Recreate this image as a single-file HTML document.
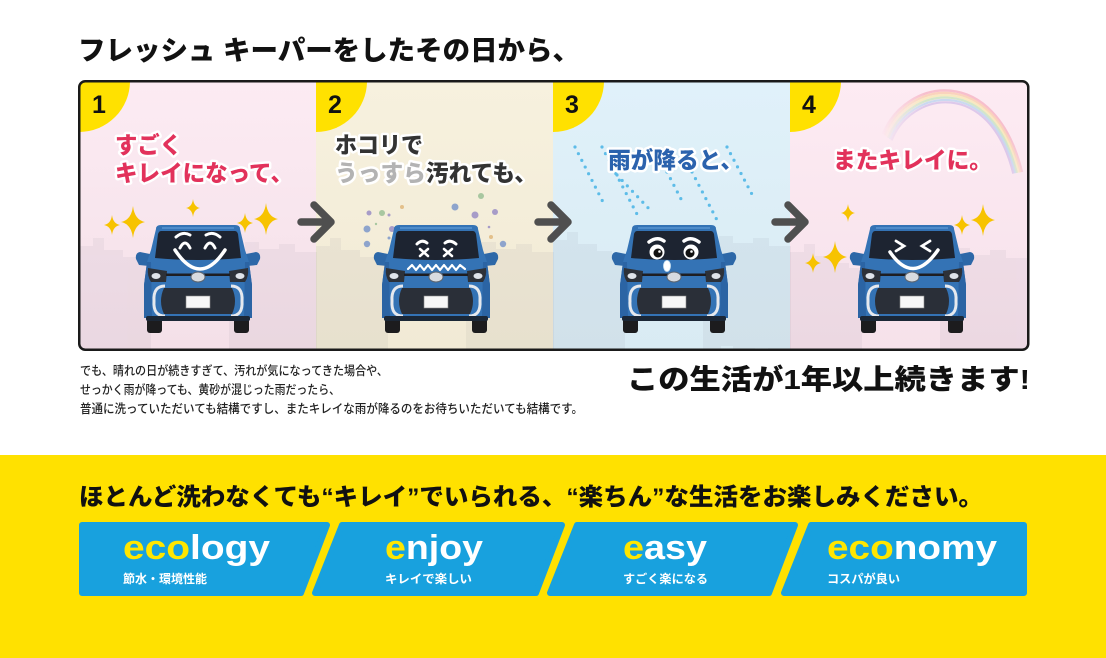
<!DOCTYPE html>
<html><head><meta charset="utf-8">
<style>
html,body{margin:0;padding:0;background:#fff;}
body{width:1106px;height:658px;overflow:hidden;}
svg{display:block;}
text{font-family:"Liberation Sans","Noto Sans CJK JP",sans-serif;}
</style></head>
<body>
<svg width="1106" height="658" viewBox="0 0 1106 658" xmlns="http://www.w3.org/2000/svg">
<defs>
  <clipPath id="frameClip"><rect x="80" y="82" width="947" height="267" rx="5"/></clipPath>
  <linearGradient id="p1g" x1="0" y1="0" x2="0" y2="1"><stop offset="0" stop-color="#fcebf3"/><stop offset="1" stop-color="#f4e0e8"/></linearGradient>
  <linearGradient id="p2g" x1="0" y1="0" x2="0" y2="1"><stop offset="0" stop-color="#f7f1de"/><stop offset="1" stop-color="#f1ead5"/></linearGradient>
  <linearGradient id="p3g" x1="0" y1="0" x2="0" y2="1"><stop offset="0" stop-color="#e0f1fa"/><stop offset="1" stop-color="#d9ebf3"/></linearGradient>
  <linearGradient id="p4g" x1="0" y1="0" x2="0" y2="1"><stop offset="0" stop-color="#fdebf3"/><stop offset="1" stop-color="#f6e1ea"/></linearGradient>
  <linearGradient id="rbFade" x1="880" y1="0" x2="1030" y2="0" gradientUnits="userSpaceOnUse">
    <stop offset="0" stop-color="#fff" stop-opacity="0"/><stop offset="0.3" stop-color="#fff" stop-opacity="1"/><stop offset="0.85" stop-color="#fff" stop-opacity="1"/><stop offset="1" stop-color="#fff" stop-opacity="0.4"/>
  </linearGradient>
  <mask id="rbMask"><rect x="860" y="70" width="180" height="130" fill="url(#rbFade)"/></mask>
  <path id="star" d="M0,-1 Q0.13,-0.13 1,0 Q0.13,0.13 0,1 Q-0.13,0.13 -1,0 Q-0.13,-0.13 0,-1Z" fill="#f7c300"/>
  <g id="city" fill="#5a5a72" opacity="0.06">
    <rect x="0" y="246" width="16" height="110"/>
    <rect x="14" y="238" width="11" height="120"/>
    <rect x="24" y="250" width="20" height="110"/>
    <rect x="43" y="257" width="16" height="100"/>
    <rect x="58" y="262" width="14" height="100"/>
    <rect x="150" y="256" width="18" height="100"/>
    <rect x="166" y="242" width="14" height="110"/>
    <rect x="180" y="249" width="22" height="110"/>
    <rect x="200" y="244" width="16" height="110"/>
    <rect x="215" y="252" width="23" height="110"/>
  </g>
  <g id="car">
    <rect x="-51" y="311" width="15" height="22" rx="3" fill="#1c1c1e"/>
    <rect x="36" y="311" width="15" height="22" rx="3" fill="#1c1c1e"/>
    <path d="M-48,254 L-58,252 Q-63,253 -62,259 L-59,265 L-49,266 Z" fill="#2d68a8"/>
    <path d="M48,254 L58,252 Q63,253 62,259 L59,265 L49,266 Z" fill="#2d68a8"/>
    <path d="M-42,229 Q-42,225 -37,225 L37,225 Q42,225 42,229 L47,250 L51,262 L54,285 L54,318 L-54,318 L-54,285 L-51,262 L-47,250 Z" fill="#3473b5"/>
    <path d="M-54,285 L-51,262 L-47,262 L-46,318 L-54,318Z" fill="#2b64a4"/>
    <path d="M54,285 L51,262 L47,262 L46,318 L54,318Z" fill="#2b64a4"/>
    <path d="M-36,228 L36,228" stroke="#4f8cca" stroke-width="2"/>
    <path d="M-37,231 L37,231 Q39,231 40,234 L43,258 Q0,262 -43,258 L-40,234 Q-39,231 -37,231Z" fill="#1d2431"/>
    <path d="M-50,268 L-31,271 L-32,282 L-47,282 Q-51,276 -50,268Z" fill="#2d3138"/>
    <path d="M50,268 L31,271 L32,282 L47,282 Q51,276 50,268Z" fill="#2d3138"/>
    <ellipse cx="-42" cy="276" rx="4.5" ry="3" fill="#dfe4ea"/>
    <ellipse cx="42" cy="276" rx="4.5" ry="3" fill="#dfe4ea"/>
    <rect x="-32" y="273.5" width="64" height="2.5" fill="#1e1e22"/>
    <ellipse cx="0" cy="277" rx="7" ry="5" fill="#d8dbe0" stroke="#5b6470" stroke-width="1"/>
    <path d="M-34,288 L34,288 Q40,301 34,314 L-34,314 Q-40,301 -34,288Z" fill="#2a2f38"/>
    <path d="M-33,286 Q-45,286 -44,301 Q-45,316 -33,316" stroke="#e6e9ee" stroke-width="3" fill="none"/>
    <path d="M33,286 Q45,286 44,301 Q45,316 33,316" stroke="#e6e9ee" stroke-width="3" fill="none"/>
    <rect x="-12" y="296" width="24" height="12" fill="#f7f7f7" stroke="#888" stroke-width="0.6"/>
    <rect x="-52" y="316" width="104" height="5" rx="2" fill="#1b2736"/>
  </g>
</defs>

<!-- Title -->
<text x="78" y="60" font-size="27" font-weight="900" fill="#111" textLength="502" lengthAdjust="spacingAndGlyphs">フレッシュ キーパーをしたその日から、</text>

<!-- Panels -->
<g clip-path="url(#frameClip)">
  <rect x="79" y="81" width="238" height="270" fill="url(#p1g)"/>
  <rect x="316" y="81" width="238" height="270" fill="url(#p2g)"/>
  <rect x="553" y="81" width="238" height="270" fill="url(#p3g)"/>
  <rect x="790" y="81" width="240" height="270" fill="url(#p4g)"/>
  <use href="#city" transform="translate(79,0)"/>
  <use href="#city" transform="translate(316,0)"/>
  <use href="#city" transform="translate(553,-6)"/>
  <use href="#city" transform="translate(790,6)"/>
  <!-- yellow corners (quarter circles) -->
  <path d="M79,81 L130,81 A51,51 0 0 1 79,132 Z" fill="#ffe100"/>
  <path d="M316,81 L367,81 A51,51 0 0 1 316,132 Z" fill="#ffe100"/>
  <path d="M553,81 L604,81 A51,51 0 0 1 553,132 Z" fill="#ffe100"/>
  <path d="M790,81 L841,81 A51,51 0 0 1 790,132 Z" fill="#ffe100"/>

  <!-- rainbow -->
  <g mask="url(#rbMask)" fill="none" stroke-width="2.4" opacity="0.6">
    <path d="M883,134 C905,78 995,62 1022,172" stroke="#f3a2b4"/>
    <path d="M883,134 C905,78 995,62 1022,172" stroke="#f8c49a" transform="translate(952,185) scale(0.975) translate(-952,-185)"/>
    <path d="M883,134 C905,78 995,62 1022,172" stroke="#f6e8a0" transform="translate(952,185) scale(0.95) translate(-952,-185)"/>
    <path d="M883,134 C905,78 995,62 1022,172" stroke="#b7e3b0" transform="translate(952,185) scale(0.925) translate(-952,-185)"/>
    <path d="M883,134 C905,78 995,62 1022,172" stroke="#a9cdef" transform="translate(952,185) scale(0.9) translate(-952,-185)"/>
    <path d="M883,134 C905,78 995,62 1022,172" stroke="#c9b3e6" transform="translate(952,185) scale(0.875) translate(-952,-185)"/>
  </g>

  <!-- rain -->
  <g stroke="#5dbce8" stroke-width="3.2" stroke-linecap="round" stroke-dasharray="0 7.5" fill="none">
    <path d="M575,147 L604,204"/>
    <path d="M602,147 L640,220"/>
    <path d="M617,175 L653,213"/>
    <path d="M667,172 L681,199"/>
    <path d="M692,172 L717,220"/>
    <path d="M727,147 L755,200"/>
  </g>

  <!-- dust -->
  <g>
    <circle cx="369" cy="213" r="2.5" fill="#a79cc8"/>
    <circle cx="382" cy="213" r="3" fill="#a8c7a0"/>
    <circle cx="389" cy="215" r="1.5" fill="#a79cc8"/>
    <circle cx="402" cy="207" r="2" fill="#e3c08a"/>
    <circle cx="367" cy="229" r="3.5" fill="#8ea4cc"/>
    <circle cx="392" cy="229" r="3" fill="#a79cc8"/>
    <circle cx="367" cy="244" r="3.2" fill="#8ea4cc"/>
    <circle cx="389" cy="238" r="1.5" fill="#8ea4cc"/>
    <circle cx="455" cy="207" r="3.5" fill="#8ea4cc"/>
    <circle cx="481" cy="196" r="3" fill="#a8c7a0"/>
    <circle cx="475" cy="215" r="3.5" fill="#a79cc8"/>
    <circle cx="495" cy="212" r="3" fill="#a79cc8"/>
    <circle cx="503" cy="244" r="3.2" fill="#8ea4cc"/>
    <circle cx="491" cy="237" r="2" fill="#e3c08a"/>
    <circle cx="489" cy="227" r="1.3" fill="#a79cc8"/>
    <circle cx="376" cy="224" r="1.2" fill="#a8c7a0"/>
  </g>

  <!-- sparkles -->
  <use href="#star" transform="translate(112,225) scale(8,10)"/>
  <use href="#star" transform="translate(133,222) scale(12,16)"/>
  <use href="#star" transform="translate(193,208) scale(7,9)"/>
  <use href="#star" transform="translate(245,223) scale(8,10)"/>
  <use href="#star" transform="translate(266,219) scale(12,16)"/>
  <use href="#star" transform="translate(848,213) scale(7,9)"/>
  <use href="#star" transform="translate(983,220) scale(12,16)"/>
  <use href="#star" transform="translate(962,225) scale(8,10)"/>
  <use href="#star" transform="translate(835,257) scale(12,16)"/>
  <use href="#star" transform="translate(813,263) scale(8,10)"/>

  <!-- cars -->
  <use href="#car" transform="translate(198,0)"/>
  <use href="#car" transform="translate(436,0)"/>
  <use href="#car" transform="translate(674,0)"/>
  <use href="#car" transform="translate(912,0)"/>

  <!-- faces -->
  <g fill="none" stroke="#fff" stroke-linecap="round" stroke-width="3">
    <path d="M176,237 Q183,231 190,235"/>
    <path d="M206,235 Q213,231 220,237"/>
    <path d="M180,248 Q185,238 190,248"/>
    <path d="M205,248 Q210,238 215,248"/>
    <path d="M175,250 Q200,288 225,250" stroke-width="3.5"/>
    <path d="M417,244 Q422,239 427,243"/>
    <path d="M445,243 Q450,239 456,244"/>
    <path d="M420,249 L428,256 M428,249 L420,256" stroke-width="2.5"/>
    <path d="M444,249 L452,256 M452,249 L444,256" stroke-width="2.5"/>
    <path d="M408,269 L412,265 L416,270 L420,265 L424,270 L428,265 L432,270 L436,265 L440,270 L444,265 L448,270 L452,265 L456,270 L460,265 L465,269" stroke-width="2.2" stroke-linejoin="round"/>
    <path d="M896,241 L904,246 L896,251" stroke-width="2.8"/>
    <path d="M930,241 L922,246 L930,251" stroke-width="2.8"/>
    <path d="M890,252 Q913,286 938,250" stroke-width="3.5"/>
  </g>
  <g>
    <path d="M649,242 Q657,236 664,241" stroke="#fff" stroke-width="3.5" fill="none" stroke-linecap="round"/>
    <path d="M684,241 Q691,236 699,242" stroke="#fff" stroke-width="3.5" fill="none" stroke-linecap="round"/>
    <circle cx="657" cy="252" r="7.5" fill="#fff"/>
    <circle cx="691" cy="252" r="7.5" fill="#fff"/>
    <circle cx="658" cy="253" r="4.5" fill="#111"/>
    <circle cx="690" cy="253" r="4.5" fill="#111"/>
    <circle cx="659.5" cy="251.5" r="1.3" fill="#fff"/>
    <circle cx="691.5" cy="251.5" r="1.3" fill="#fff"/>
    <ellipse cx="667" cy="266" rx="3.5" ry="5.5" fill="#fff" stroke="#cfe4f2" stroke-width="0.8"/>
  </g>

  <!-- arrows -->
  <g stroke="#4f4f4f" stroke-width="7.5" stroke-linecap="round" stroke-linejoin="round" fill="none">
    <path d="M301,222 L329,222 M314,205 L331,222 L314,239"/>
    <path d="M538,222 L566,222 M551,205 L568,222 L551,239"/>
    <path d="M775,222 L803,222 M788,205 L805,222 L788,239"/>
  </g>

  <!-- numbers -->
  <g font-size="25" font-weight="700" fill="#111">
    <text x="92" y="113">1</text>
    <text x="328" y="113">2</text>
    <text x="565" y="113">3</text>
    <text x="802" y="113">4</text>
  </g>

  <!-- panel labels -->
  <g font-size="23" font-weight="900" stroke="#fff" stroke-width="5" stroke-linejoin="round" paint-order="stroke">
    <text x="115" y="153" fill="#e2325b" textLength="67" lengthAdjust="spacingAndGlyphs">すごく</text>
    <text x="115" y="181" fill="#e2325b" textLength="178" lengthAdjust="spacingAndGlyphs">キレイになって、</text>
    <text x="335" y="153" fill="#333" textLength="88" lengthAdjust="spacingAndGlyphs">ホコリで</text>
    <text x="335" y="181" fill="#333" textLength="202" lengthAdjust="spacingAndGlyphs"><tspan fill="#b3b3b3">うっすら</tspan>汚れても、</text>
    <text x="608" y="168" fill="#2b62ad" textLength="135" lengthAdjust="spacingAndGlyphs">雨が降ると、</text>
    <text x="833" y="168" fill="#e2325b" textLength="159" lengthAdjust="spacingAndGlyphs">またキレイに。</text>
  </g>
</g>
<rect x="79.25" y="81.25" width="949" height="268.5" rx="6" fill="none" stroke="#1a1a1a" stroke-width="2.5"/>

<!-- small text -->
<g font-size="12.5" fill="#222" font-weight="500">
  <text x="80" y="375" textLength="308" lengthAdjust="spacingAndGlyphs">でも、晴れの日が続きすぎて、汚れが気になってきた場合や、</text>
  <text x="80" y="394" textLength="260" lengthAdjust="spacingAndGlyphs">せっかく雨が降っても、黄砂が混じった雨だったら、</text>
  <text x="80" y="413" textLength="503" lengthAdjust="spacingAndGlyphs">普通に洗っていただいても結構ですし、またキレイな雨が降るのをお待ちいただいても結構です。</text>
</g>
<text x="627" y="389" font-size="28" font-weight="900" fill="#111" textLength="403" lengthAdjust="spacingAndGlyphs">この生活が1年以上続きます!</text>

<!-- yellow band -->
<rect x="0" y="455" width="1106" height="203" fill="#ffe100"/>
<text x="79" y="505" font-size="24" font-weight="900" fill="#111" textLength="904" lengthAdjust="spacingAndGlyphs">ほとんど洗わなくても“キレイ”でいられる、“楽ちん”な生活をお楽しみください。</text>

<g fill="#18a1de" stroke="#18a1de" stroke-width="6" stroke-linejoin="round">
  <polygon points="82,525 327,525 301,593 82,593"/>
  <polygon points="342,525 562,525 536,593 315,593"/>
  <polygon points="577,525 795,525 769,593 550,593"/>
  <polygon points="811,525 1024,525 1024,593 784,593"/>
</g>

<g font-weight="700" fill="#fff">
  <text x="123" y="559" font-size="34" textLength="147" lengthAdjust="spacingAndGlyphs"><tspan fill="#ffe600">eco</tspan>logy</text>
  <text x="385" y="559" font-size="34" textLength="98" lengthAdjust="spacingAndGlyphs"><tspan fill="#ffe600">e</tspan>njoy</text>
  <text x="623" y="559" font-size="34" textLength="84" lengthAdjust="spacingAndGlyphs"><tspan fill="#ffe600">e</tspan>asy</text>
  <text x="827" y="559" font-size="34" textLength="170" lengthAdjust="spacingAndGlyphs"><tspan fill="#ffe600">eco</tspan>nomy</text>
  <g font-size="12">
    <text x="123" y="583" textLength="84" lengthAdjust="spacingAndGlyphs">節水・環境性能</text>
    <text x="385" y="583" textLength="87" lengthAdjust="spacingAndGlyphs">キレイで楽しい</text>
    <text x="623" y="583" textLength="85" lengthAdjust="spacingAndGlyphs">すごく楽になる</text>
    <text x="827" y="583" textLength="73" lengthAdjust="spacingAndGlyphs">コスパが良い</text>
  </g>
</g>
</svg>
</body></html>
